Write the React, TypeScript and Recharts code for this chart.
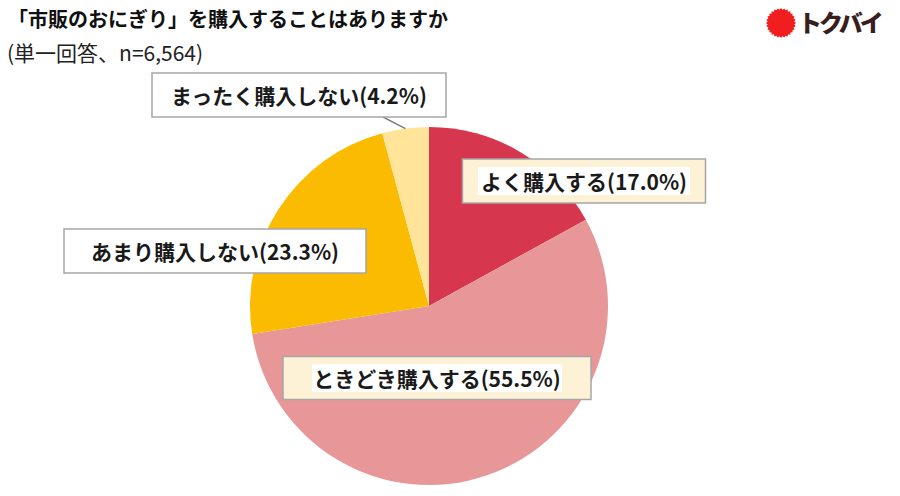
import React from "react";
import { PieChart, Pie, Cell } from "recharts";

const categories = ["よく購入する", "ときどき購入する", "あまり購入しない", "まったく購入しない"];
const shares = [17.0, 55.5, 23.3, 4.2];
const colors = ["#D6364E", "#E89799", "#FBBB00", "#FFE49A"];

const titleText = "「市販のおにぎり」を購入することはありますか";
const subtitleText = "(単一回答、n=6,564)";
const logoText = "トクバイ";

const data = categories.map((name, i) => ({ name, value: shares[i] }));

// label box layout relative to pie centre: dx, dy (box centre), w, h, fill, text highlight width, leader line
const boxLayout = [
  { dx: 155, dy: -125, w: 243, h: 44, fill: "#FDF1D6", hl: 212, leader: false },
  { dx: 8, dy: 72, w: 308, h: 43, fill: "#FDF1D6", hl: 250, leader: false },
  { dx: -214, dy: -55, w: 302, h: 44, fill: "#FFFFFF", hl: 0, leader: false },
  { dx: -130, dy: -211, w: 294, h: 44, fill: "#FFFFFF", hl: 0, leader: true },
];

const FONT = '"Noto Sans CJK JP", "Noto Sans", sans-serif';
const RAD = Math.PI / 180;

const renderLabel = (props: any) => {
  const { cx, cy, midAngle, outerRadius, index, payload } = props;
  const L = boxLayout[index];
  const bx = Number(cx) + L.dx;
  const by = Number(cy) + L.dy;
  const name = payload?.name ?? categories[index];
  const val = payload?.value ?? shares[index];
  const text = `${name}(${Number(val).toFixed(1)}%)`;
  const ex = Number(cx) + outerRadius * Math.cos(-midAngle * RAD);
  const ey = Number(cy) + outerRadius * Math.sin(-midAngle * RAD);
  return (
    <g key={`lbl-${index}`}>
      {L.leader && (
        <line x1={bx + 84} y1={by + L.h / 2} x2={ex} y2={ey} stroke="#7F7F7F" strokeWidth={1.5} />
      )}
      <rect x={bx - L.w / 2} y={by - L.h / 2} width={L.w} height={L.h} fill={L.fill} stroke="#A6A6A6" strokeWidth={1.5} />
      {L.hl > 0 && <rect x={bx - L.hl / 2} y={by - 14} width={L.hl} height={28} fill="#FFFFFF" />}
      <text x={bx} y={by} textAnchor="middle" dominantBaseline="central" fontFamily={FONT} fontWeight={700} fontSize={21} fill="#1A1A1A">
        {text}
      </text>
    </g>
  );
};

const sunPoints = (() => {
  const pts: string[] = [];
  const n = 28;
  for (let i = 0; i < n * 2; i++) {
    const r = i % 2 === 0 ? 15 : 13.4;
    const a = (i * Math.PI) / n;
    pts.push(`${(16 + r * Math.cos(a)).toFixed(2)},${(16 + r * Math.sin(a)).toFixed(2)}`);
  }
  return pts.join(" ");
})();

export default function App() {
  return (
    <div style={{ position: "absolute", left: 0, top: 0, width: 900, height: 496, background: "#fff", fontFamily: FONT }}>
      <div style={{ position: "absolute", left: 8, top: 6, fontSize: 20, fontWeight: 700, color: "#111", lineHeight: "26px", whiteSpace: "nowrap" }}>
        {titleText}
      </div>
      <div style={{ position: "absolute", left: 7, top: 38, fontSize: 21, fontWeight: 400, color: "#222", lineHeight: "28px", whiteSpace: "nowrap" }}>
        {subtitleText}
      </div>
      <svg style={{ position: "absolute", left: 765, top: 7 }} width={32} height={32}>
        <polygon points={sunPoints} fill="#F01E1E" />
      </svg>
      <div style={{ position: "absolute", left: 798, top: 5, fontSize: 24, fontWeight: 900, color: "#3A1E1E", letterSpacing: -3, lineHeight: "34px", whiteSpace: "nowrap" }}>
        {logoText}
      </div>
      <div style={{ position: "absolute", left: 0, top: 0 }}>
        <PieChart width={900} height={496} margin={{ top: 0, right: 0, bottom: 0, left: 0 }}>
          <Pie
            data={data}
            dataKey="value"
            nameKey="name"
            cx={429}
            cy={306}
            outerRadius={179}
            startAngle={90}
            endAngle={-270}
            stroke="none"
            label={renderLabel}
            labelLine={false}
            isAnimationActive={false}
          >
            {data.map((d, i) => (
              <Cell key={d.name} fill={colors[i]} />
            ))}
          </Pie>
        </PieChart>
      </div>
    </div>
  );
}
